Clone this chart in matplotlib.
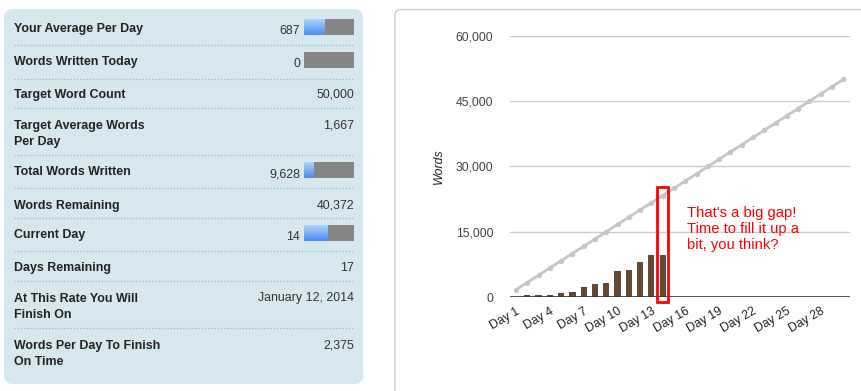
import numpy as np
import matplotlib
matplotlib.use("Agg")
import matplotlib.pyplot as plt
from matplotlib.patches import FancyBboxPatch, Rectangle

plt.rcParams['font.family'] = ['Liberation Sans', 'DejaVu Sans']

# chart data
days = [f"Day {i}" for i in range(1, 31)]
target = [1667, 3333, 5000, 6667, 8333, 10000, 11667, 13333, 15000, 16667,
          18333, 20000, 21667, 23333, 25000, 26667, 28333, 30000, 31667, 33333,
          35000, 36667, 38333, 40000, 41667, 43333, 45000, 46667, 48333, 50000]
written = [0, 460, 460, 460, 920, 1150, 2300, 2990, 3220, 6050,
           6280, 8110, 9628, 9628]
yticks = [0, 15000, 30000, 45000, 60000]

# stats table
labels = ["Your Average Per Day", "Words Written Today", "Target Word Count",
          "Target Average Words\nPer Day", "Total Words Written", "Words Remaining",
          "Current Day", "Days Remaining", "At This Rate You Will\nFinish On",
          "Words Per Day To Finish\nOn Time"]
values = ["687", "0", "50,000", "1,667", "9,628", "40,372", "14", "17",
          "January 12, 2014", "2,375"]
progress = [0.41, 0.0, None, None, 0.19, None, 0.47, None, None, None]

W, H = 862, 391
fig = plt.figure(figsize=(W / 100, H / 100), dpi=100)

bg = fig.add_axes([0, 0, 1, 1])
bg.set_xlim(0, W)
bg.set_ylim(H, 0)
bg.axis('off')

# left panel
bg.add_patch(FancyBboxPatch((4, 9), 359, 375, boxstyle="round,pad=0,rounding_size=9",
                            fc='#d6e7ee', ec='none'))
# right panel
bg.add_patch(FancyBboxPatch((395, 9.5), 480, 400, boxstyle="round,pad=0,rounding_size=6",
                            fc='white', ec='#cccccc', lw=1))

label_y = [27.7, 60.7, 93.7, 124, 170.7, 204, 233.7, 266.7, 297, 344]
sep_y = [45.3, 78.7, 108.3, 155, 188, 218, 251, 281, 327.7]
grad = np.linspace(0, 1, 16).reshape(-1, 1)
blue = np.zeros((16, 1, 3))
top_c = np.array([0.68, 0.82, 0.98])
bot_c = np.array([0.29, 0.56, 0.95])
blue[:, 0, :] = top_c + (bot_c - top_c) * grad
for lab, val, p, y in zip(labels, values, progress, label_y):
    bg.text(14, y - 4.5, lab, fontsize=8.9, fontweight='bold', color='#222222',
            va='top', ha='left', linespacing=1.55)
    if p is None:
        bg.text(354, y + 1, val, fontsize=8.9, color='#333333', va='center', ha='right')
    else:
        bg.text(300, y + 3.5, val, fontsize=8.9, color='#333333', va='center', ha='right')
        x0, x1 = 304, 354
        bg.add_patch(Rectangle((x0, y - 8.5), x1 - x0, 16, fc='#858585', ec='none'))
        if p > 0:
            bg.imshow(blue, extent=(x0, x0 + (x1 - x0) * p, y + 7.5, y - 8.5),
                      aspect='auto', zorder=3)
for y in sep_y:
    bg.plot([14, 354], [y, y], color='#8fc0cc', lw=0.9, ls=(0, (1, 1.5)))
bg.set_xlim(0, W)
bg.set_ylim(H, 0)

# chart
ax = fig.add_axes([510 / W, (H - 297) / H, 340 / W, (297 - 36) / H])
x = np.arange(len(days))
ax.bar(x[:len(written)], written, width=0.55, color='#654834', zorder=3)
ax.plot(x, target, color='#c6c6c6', lw=2, marker='o', ms=2.8, zorder=4)
ax.set_xlim(-0.53, 29.6)
ax.set_ylim(0, 60000)
ax.set_yticks(yticks)
ax.set_yticklabels([f"{v:,}" for v in yticks], fontsize=8.8, color='#444444')
ax.yaxis.grid(True, color='#cccccc', lw=1)
ax.set_axisbelow(True)
ax.axhline(0, color='#333333', lw=1.2, zorder=5)
for s in ax.spines.values():
    s.set_visible(False)
ax.tick_params(axis='both', length=0)
ax.tick_params(axis='y', pad=12)
ax.set_xticks(x[::3])
ax.set_xticklabels(days[::3], rotation=30, ha='right', rotation_mode='anchor',
                   fontsize=8.8, color='#222222')
ax.tick_params(axis='x', pad=6)
ax.set_ylabel("Words", fontsize=8.8, style='italic', color='#222222', labelpad=8)

# annotation
ax.add_patch(Rectangle((12.5, -1200), 0.98, 26400, fill=False, ec='#ff0000', lw=2,
                       clip_on=False, zorder=6))
ax.text(15.15, 21000, "That's a big gap!\nTime to fill it up a\nbit, you think?",
        color='#ff0000', fontsize=10.6, va='top', ha='left', linespacing=1.2)

fig.savefig("out.png", dpi=100)
